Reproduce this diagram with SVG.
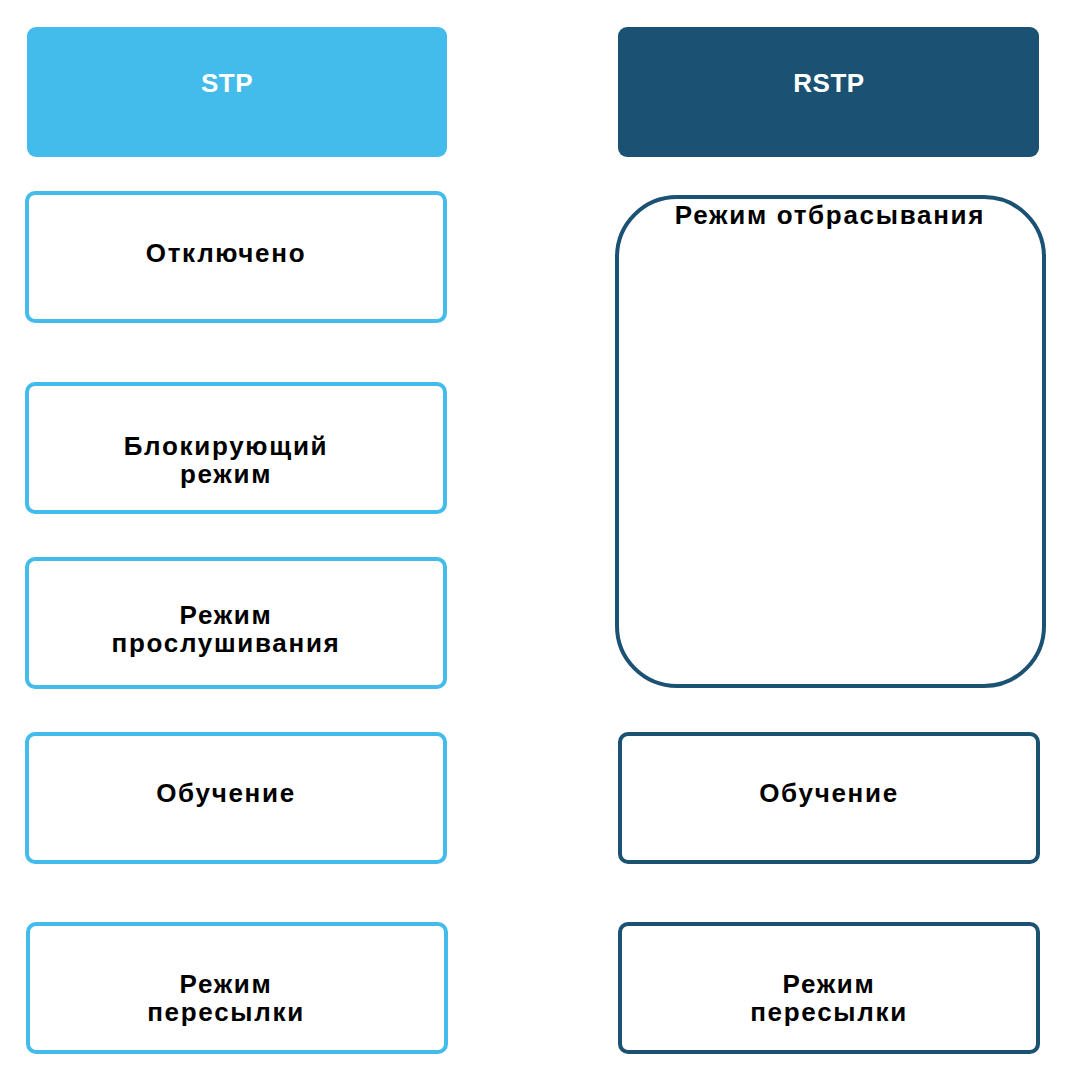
<svg xmlns="http://www.w3.org/2000/svg" width="1065" height="1080" viewBox="0 0 1065 1080">
<style>
.hl{fill:#43BCEC;}
.hd{fill:#1B5274;}
.bl{fill:#fff;stroke:#43BCEC;stroke-width:4;}
.bd{fill:#fff;stroke:#1B5274;stroke-width:4;}
.t{font-family:"Liberation Sans",Arial,sans-serif;font-weight:bold;font-size:26px;text-anchor:middle;fill:#000;letter-spacing:1.7px;}
.tw{fill:#fff;letter-spacing:0.5px;}
</style>
<rect width="1065" height="1080" fill="#fff"/>
<g id="stp-header"><rect class="hl" x="27" y="27" width="420" height="130" rx="9"/><text class="t tw" x="227" y="92">STP</text></g>
<g id="rstp-header"><rect class="hd" x="618" y="27" width="421" height="130" rx="9"/><text class="t tw" x="829" y="92">RSTP</text></g>
<g id="stp-disabled"><rect class="bl" x="27" y="193" width="418" height="128" rx="8"/><text class="t" x="226" y="262">Отключено</text></g>
<g id="stp-blocking"><rect class="bl" x="27" y="384" width="418" height="128" rx="8"/><text class="t" x="226" y="455">Блокирующий</text><text class="t" x="226" y="483">режим</text></g>
<g id="stp-listening"><rect class="bl" x="27" y="559" width="418" height="128" rx="8"/><text class="t" x="226" y="624">Режим</text><text class="t" x="226" y="652">прослушивания</text></g>
<g id="stp-learning"><rect class="bl" x="27" y="734" width="418" height="128" rx="8"/><text class="t" x="226" y="802">Обучение</text></g>
<g id="stp-forwarding"><rect class="bl" x="28" y="924" width="418" height="128" rx="8"/><text class="t" x="226" y="993">Режим</text><text class="t" x="226" y="1021">пересылки</text></g>
<g id="rstp-discarding"><rect class="bd" x="617" y="197" width="427" height="489" rx="60"/><text class="t" x="830" y="224">Режим отбрасывания</text></g>
<g id="rstp-learning"><rect class="bd" x="620" y="734" width="418" height="128" rx="8"/><text class="t" x="829" y="802">Обучение</text></g>
<g id="rstp-forwarding"><rect class="bd" x="620" y="924" width="418" height="128" rx="8"/><text class="t" x="829" y="993">Режим</text><text class="t" x="829" y="1021">пересылки</text></g>
<g id="connectors"></g>
</svg>
